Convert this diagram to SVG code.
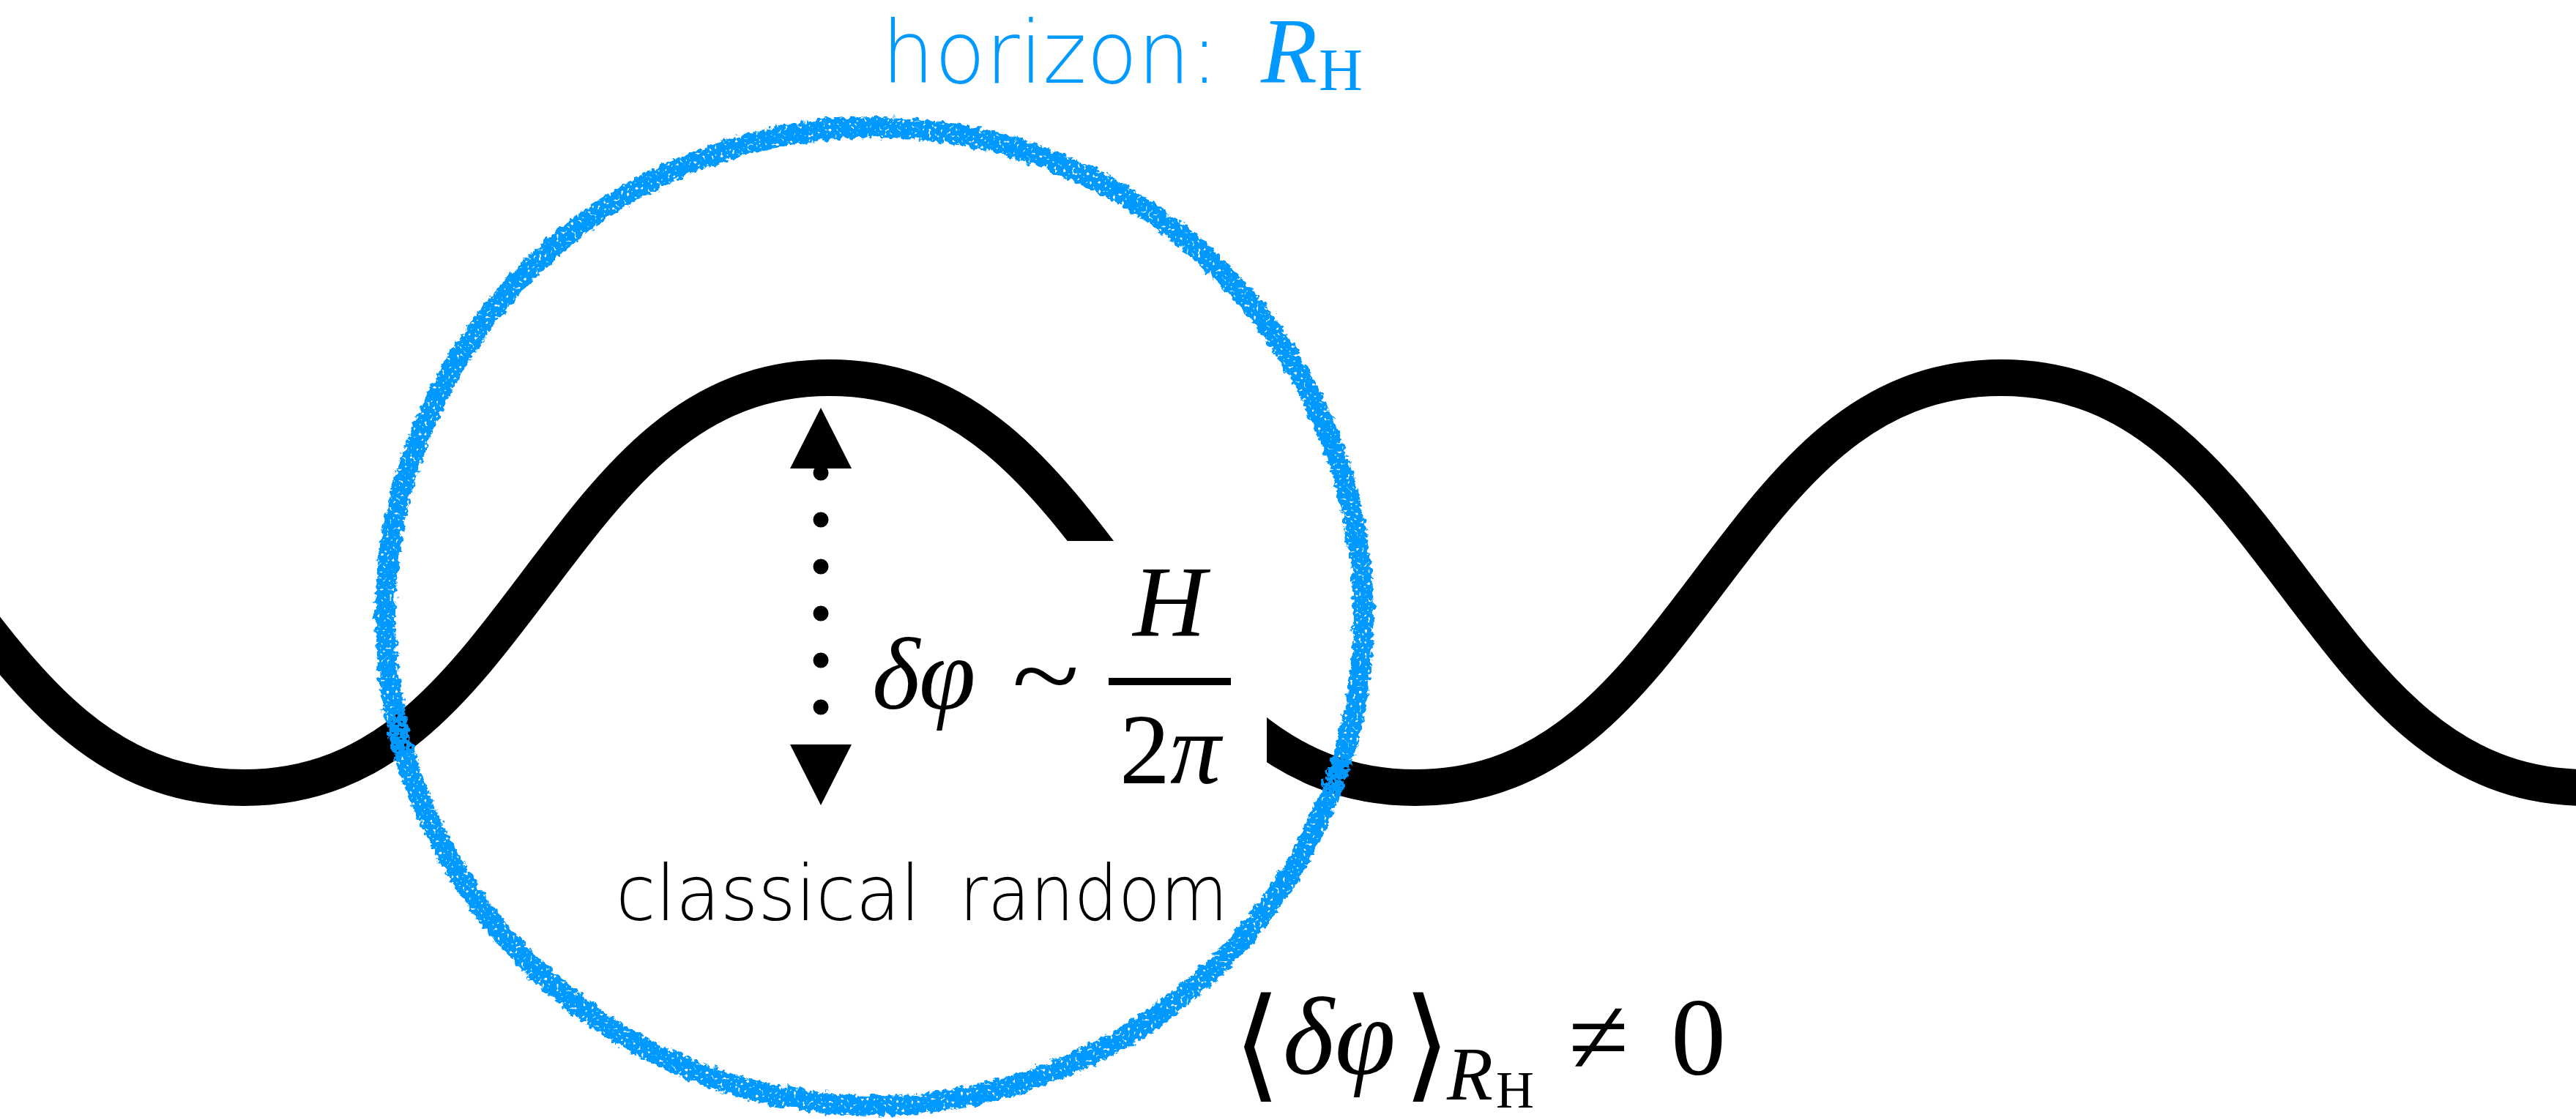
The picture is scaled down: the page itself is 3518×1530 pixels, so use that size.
<svg xmlns="http://www.w3.org/2000/svg" width="3518" height="1530" viewBox="0 0 3518 1530">
<style>
.math{font-family:"Liberation Serif","Times New Roman",serif;fill:#000}
.it{font-style:italic}
.lab{font-family:"DejaVu Sans","Noto Sans",sans-serif;font-weight:200}
.blue{fill:#0099ff}
.brk{font-family:"DejaVu Serif",serif;fill:#000}
</style>
<defs>
<filter id="rough" x="-5%" y="-5%" width="110%" height="110%">
<feTurbulence type="fractalNoise" baseFrequency="0.12" numOctaves="3" seed="7" result="n"/>
<feDisplacementMap in="SourceGraphic" in2="n" scale="13" xChannelSelector="R" yChannelSelector="G" result="d"/>
<feTurbulence type="fractalNoise" baseFrequency="0.25" numOctaves="1" seed="3" result="n2"/>
<feColorMatrix in="n2" type="matrix" values="0 0 0 0 0  0 0 0 0 0  0 0 0 0 0  0 0 0 -12 8.6" result="holes"/>
<feComposite in="d" in2="holes" operator="in"/>
</filter>
<mask id="gap" maskUnits="userSpaceOnUse" x="0" y="0" width="3518" height="1530">
<rect x="0" y="0" width="3518" height="1530" fill="#fff"/>
<rect x="1180" y="739" width="550" height="380" fill="#000"/>
</mask>
</defs>
<rect width="3518" height="1530" fill="#fff"/>
<g id="connectors">
<path id="wave" mask="url(#gap)" fill="none" stroke="#000" stroke-width="50" d="M-67,796 C43,942 144,1076 333,1076 C522,1076 623,942 733,796 C843,650 944,516 1133,516 C1322,516 1423,650 1533,796 C1643,942 1744,1076 1933,1076 C2122,1076 2223,942 2333,796 C2443,650 2544,516 2733,516 C2922,516 3023,650 3133,796 C3243,942 3344,1076 3533,1076"/>
<g id="amplitude-arrow">
<line x1="1121" y1="646" x2="1121" y2="970" stroke="#000" stroke-width="21" stroke-linecap="round" stroke-dasharray="0 64"/>
<polygon points="1121,557 1079,640 1163,640" fill="#000"/>
<polygon points="1079,1017 1163,1017 1121,1100" fill="#000"/>
</g>
</g>
<g id="horizon">
<circle cx="1194" cy="842" r="668" fill="none" stroke="#0099ff" stroke-width="28" filter="url(#rough)"/>
<text class="lab blue" x="1204" y="113" font-size="118" textLength="460" lengthAdjust="spacingAndGlyphs">horizon:</text>
<text class="math blue it" x="1722" y="113" font-size="126">R</text>
<text class="math blue" x="1801" y="123" font-size="83">H</text>
</g>
<g id="fluct-label">
<text class="math it" x="1191" y="968" font-size="140">δ</text>
<text class="math it" x="1255" y="968" font-size="140">φ</text>
<text class="math" x="1382" y="970" font-size="140" textLength="92" lengthAdjust="spacingAndGlyphs">~</text>
<text class="math it" x="1597" y="868" font-size="138" text-anchor="middle">H</text>
<rect x="1514" y="926" width="167" height="10" fill="#000"/>
<text class="math" x="1529" y="1070" font-size="138">2</text>
<text class="math it" x="1598" y="1070" font-size="138">π</text>
</g>
<g id="classical-label">
<text class="lab" x="841" y="1257" font-size="105" textLength="416" lengthAdjust="spacingAndGlyphs">classical</text>
<text class="lab" x="1310" y="1257" font-size="105" textLength="367" lengthAdjust="spacingAndGlyphs">random</text>
</g>
<g id="mean-label">
<text class="brk" x="1684" y="1483" font-size="168">⟨</text>
<text class="math it" x="1752" y="1467" font-size="150">δ</text>
<text class="math it" x="1823" y="1467" font-size="150">φ</text>
<text class="brk" x="1916" y="1483" font-size="168">⟩</text>
<text class="math it" x="1976" y="1502" font-size="103">R</text>
<text class="math" x="2043" y="1513" font-size="72">H</text>
<text class="math" x="2142" y="1467" font-size="150">≠</text>
<text class="math" x="2282" y="1468" font-size="150">0</text>
</g>
</svg>
